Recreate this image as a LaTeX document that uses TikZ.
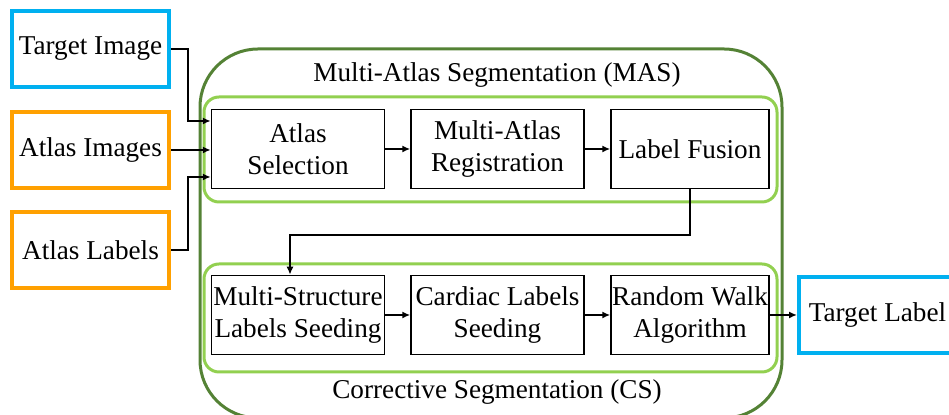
\documentclass[tikz,border=0pt]{standalone}
\usepackage{fontspec}
\setmainfont{Liberation Serif}
\usetikzlibrary{arrows.meta, positioning}
\definecolor{inblue}{RGB}{0,176,240}
\definecolor{inorange}{RGB}{255,160,0}
\definecolor{stagegreen}{RGB}{146,208,80}
\definecolor{masgreen}{RGB}{84,130,53}

\begin{document}
\begin{tikzpicture}[
    x=0.5pt, y=-0.5pt,
    font=\fontsize{13.6}{16}\selectfont,
    stepbox/.style={rectangle, draw=black, line width=0.75pt, minimum width=86.5pt, minimum height=39.5pt, inner sep=0pt, align=center},
    databox/.style={rectangle, line width=2pt, minimum width=78.5pt, minimum height=38pt, inner sep=0pt, align=center},
    stage/.style={draw=stagegreen, line width=1.5pt, rounded corners=7.5pt},
    arrow/.style={-{Latex[length=4pt, width=3.5pt]}, line width=1pt}
]
    \useasboundingbox (0,0) rectangle (949,415);

    % Containers
    \draw[masgreen, line width=1.5pt, rounded corners=29pt] (200,49) rectangle (782,418);
    \draw[stage] (204,97) rectangle (777,202);
    \draw[stage] (204,264) rectangle (777,372);
    \node (mastitle) at (497,75) {Multi-Atlas Segmentation (MAS)};
    \node (cstitle) at (497,392) {Corrective Segmentation (CS)};

    % Inputs and output
    \node[databox, draw=inblue] (target) at (90.5,49) {Target Image};
    \node[databox, draw=inorange] (atlasimg) at (90.5,150) {Atlas Images};
    \node[databox, draw=inorange] (atlaslbl) at (90.5,250) {Atlas Labels};
    \node[databox, draw=inblue] (targetlbl) at (877.5,315) {Target Label};

    % MAS steps
    \node[stepbox] (selection) at (298,149) {Atlas\\Selection};
    \node[stepbox] (registration) at (497.5,149) {Multi-Atlas\\Registration};
    \node[stepbox, minimum width=79pt] (fusion) at (690,149) {Label Fusion};

    % CS steps
    \node[stepbox] (seeding) at (298,315) {Multi-Structure\\Labels Seeding};
    \node[stepbox] (cardiac) at (497.5,315) {Cardiac Labels\\Seeding};
    \node[stepbox, minimum width=79pt] (walk) at (690,315) {Random Walk\\Algorithm};

    % Arrows
    \draw[arrow] (target.east) -- ++(17,0) |- ([yshift=14pt]selection.west);
    \draw[arrow] (atlasimg.east) -- (atlasimg.east -| selection.west);
    \draw[arrow] (atlaslbl.east) -- ++(17,0) |- ([yshift=-14pt]selection.west);
    \draw[arrow] (selection) -- (registration);
    \draw[arrow] (registration) -- (fusion);
    \draw[arrow] (fusion.south) -- ++(0,46) -| ([xshift=-4pt]seeding.north);
    \draw[arrow] (seeding) -- (cardiac);
    \draw[arrow] (cardiac) -- (walk);
    \draw[arrow] (walk) -- (targetlbl);
\end{tikzpicture}
\end{document}
